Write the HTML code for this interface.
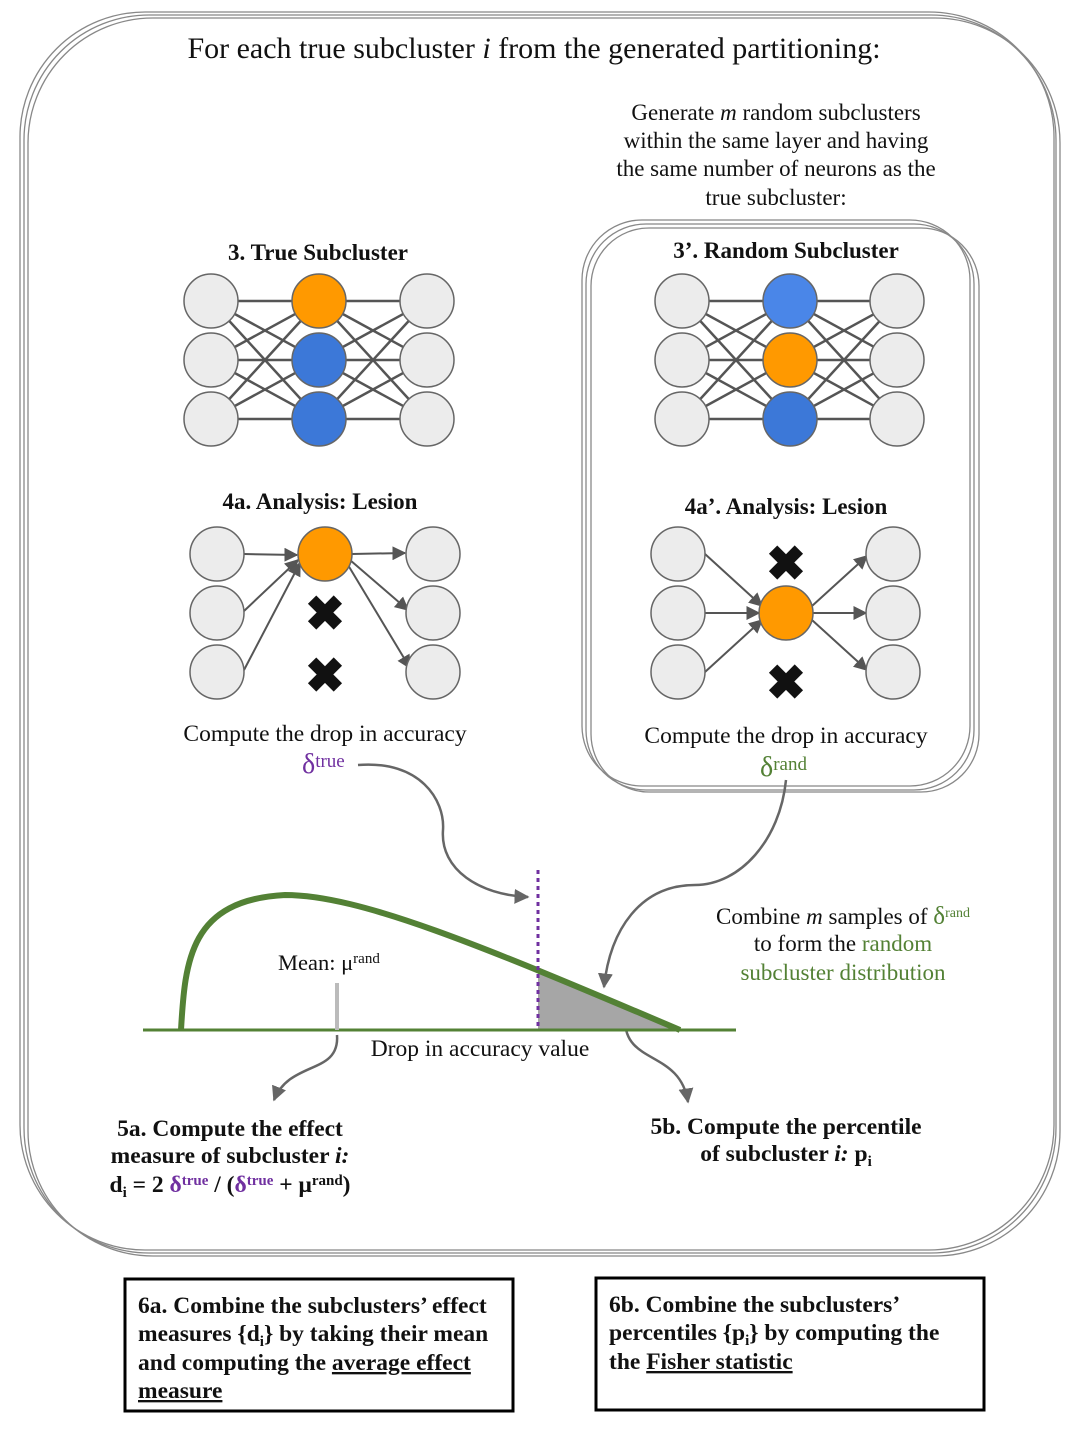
<!DOCTYPE html>
<html><head><meta charset="utf-8"><style>
body{margin:0;background:#fff}
svg{display:block}
text{font-family:"Liberation Serif",serif;fill:#111}
.b{font-weight:bold}
</style></head><body>
<svg width="1080" height="1429" viewBox="0 0 1080 1429" xmlns="http://www.w3.org/2000/svg">
<defs>
<marker id="ah" viewBox="0 0 10 10" refX="9" refY="5" markerWidth="7" markerHeight="7" orient="auto"><path d="M0,0L10,5L0,10z" fill="#555"/></marker>
<marker id="ag" viewBox="0 0 10 10" refX="9" refY="5" markerWidth="6" markerHeight="6" orient="auto"><path d="M0,0L10,5L0,10z" fill="#666"/></marker>
</defs>
<g fill="none" stroke="#888" stroke-width="1.3">
<rect x="20" y="12" width="1034" height="1238" rx="125"/>
<rect x="24" y="15" width="1032" height="1238" rx="125"/>
<rect x="28" y="18" width="1032" height="1238" rx="125"/>
<rect x="582" y="220" width="388" height="566" rx="60"/>
<rect x="586" y="224" width="388" height="566" rx="60"/>
<rect x="591" y="228" width="388" height="564" rx="58"/>
</g>
<text x="534" y="58" font-size="30" text-anchor="middle">For each true subcluster <tspan font-style="italic">i</tspan> from the generated partitioning:</text>
<g font-size="23" text-anchor="middle">
<text x="776" y="120">Generate <tspan font-style="italic">m</tspan> random subclusters</text>
<text x="776" y="148">within the same layer and having</text>
<text x="776" y="176">the same number of neurons as the</text>
<text x="776" y="205">true subcluster:</text>
</g>
<text x="318" y="260" font-size="23" class="b" text-anchor="middle">3. True Subcluster</text>
<text x="786" y="258" font-size="23" class="b" text-anchor="middle">3’. Random Subcluster</text>
<text x="320" y="509" font-size="23" class="b" text-anchor="middle">4a. Analysis: Lesion</text>
<text x="786" y="514" font-size="23" class="b" text-anchor="middle">4a’. Analysis: Lesion</text>

<g stroke="#555" stroke-width="2.5">
<g id="n1l">
<line x1="211" y1="301" x2="319" y2="301"/><line x1="211" y1="301" x2="319" y2="360"/><line x1="211" y1="301" x2="319" y2="419"/>
<line x1="211" y1="360" x2="319" y2="301"/><line x1="211" y1="360" x2="319" y2="360"/><line x1="211" y1="360" x2="319" y2="419"/>
<line x1="211" y1="419" x2="319" y2="301"/><line x1="211" y1="419" x2="319" y2="360"/><line x1="211" y1="419" x2="319" y2="419"/>
</g>
<use href="#n1l" transform="translate(108,0)"/>
<use href="#n1l" transform="translate(471,0)"/>
<use href="#n1l" transform="translate(579,0)"/>
</g>
<g stroke="#666" stroke-width="1.5">
<circle cx="211" cy="301" r="27" fill="#ececec"/><circle cx="211" cy="360" r="27" fill="#ececec"/><circle cx="211" cy="419" r="27" fill="#ececec"/>
<circle cx="319" cy="301" r="27" fill="#ff9900"/><circle cx="319" cy="360" r="27" fill="#3c78d8"/><circle cx="319" cy="419" r="27" fill="#3c78d8"/>
<circle cx="427" cy="301" r="27" fill="#ececec"/><circle cx="427" cy="360" r="27" fill="#ececec"/><circle cx="427" cy="419" r="27" fill="#ececec"/>
<circle cx="682" cy="301" r="27" fill="#ececec"/><circle cx="682" cy="360" r="27" fill="#ececec"/><circle cx="682" cy="419" r="27" fill="#ececec"/>
<circle cx="790" cy="301" r="27" fill="#4a86e8"/><circle cx="790" cy="360" r="27" fill="#ff9900"/><circle cx="790" cy="419" r="27" fill="#3c78d8"/>
<circle cx="897" cy="301" r="27" fill="#ececec"/><circle cx="897" cy="360" r="27" fill="#ececec"/><circle cx="897" cy="419" r="27" fill="#ececec"/>
</g>

<g stroke="#555" stroke-width="2" marker-end="url(#ah)">
<line x1="244" y1="554" x2="297" y2="555"/>
<line x1="244" y1="611" x2="298" y2="560"/>
<line x1="244" y1="670" x2="300" y2="563"/>
<line x1="352" y1="554" x2="405" y2="553"/>
<line x1="350" y1="560" x2="408" y2="610"/>
<line x1="348" y1="565" x2="410" y2="668"/>
<line x1="705" y1="554" x2="762" y2="606"/>
<line x1="705" y1="613" x2="759" y2="613"/>
<line x1="705" y1="672" x2="762" y2="620"/>
<line x1="812" y1="606" x2="867" y2="556"/>
<line x1="813" y1="613" x2="866" y2="613"/>
<line x1="812" y1="620" x2="867" y2="670"/>
</g>
<g stroke="#666" stroke-width="1.5">
<circle cx="217" cy="554" r="27" fill="#ececec"/><circle cx="217" cy="613" r="27" fill="#ececec"/><circle cx="217" cy="672" r="27" fill="#ececec"/>
<circle cx="325" cy="554" r="27" fill="#ff9900"/>
<circle cx="433" cy="554" r="27" fill="#ececec"/><circle cx="433" cy="613" r="27" fill="#ececec"/><circle cx="433" cy="672" r="27" fill="#ececec"/>
<circle cx="678" cy="554" r="27" fill="#ececec"/><circle cx="678" cy="613" r="27" fill="#ececec"/><circle cx="678" cy="672" r="27" fill="#ececec"/>
<circle cx="786" cy="613" r="27" fill="#ff9900"/>
<circle cx="893" cy="554" r="27" fill="#ececec"/><circle cx="893" cy="613" r="27" fill="#ececec"/><circle cx="893" cy="672" r="27" fill="#ececec"/>
</g>
<g font-size="48" font-family="DejaVu Sans,sans-serif" text-anchor="middle" font-weight="bold">
<text x="325" y="630">✖</text><text x="325" y="692">✖</text>
<text x="786" y="580">✖</text><text x="786" y="699">✖</text>
</g>

<text x="325" y="741" font-size="23.5" text-anchor="middle">Compute the drop in accuracy</text>
<text x="786" y="743" font-size="23.5" text-anchor="middle">Compute the drop in accuracy</text>
<text x="302" y="773" font-size="28" style="fill:#7030a0">δ<tspan font-size="19" dy="-6">true</tspan></text>
<text x="760" y="776" font-size="28" style="fill:#538135">δ<tspan font-size="19" dy="-6">rand</tspan></text>

<g fill="none" stroke="#666" stroke-width="2.5">
<path d="M358,765 C420,760 445,800 443,830 C440,870 480,895 528,897" marker-end="url(#ag)"/>
<path d="M786,780 C780,840 740,885 695,885 C640,885 610,930 604,987" marker-end="url(#ag)"/>
<path d="M337,1035 C340,1075 290,1060 274,1100" marker-end="url(#ag)"/>
<path d="M625,1020 C625,1065 680,1050 688,1102" marker-end="url(#ag)"/>
</g>

<path d="M538,968 L680,1030 L538,1030 Z" fill="#a6a6a6"/>
<line x1="143" y1="1030" x2="736" y2="1030" stroke="#538135" stroke-width="3"/>
<path d="M181,1030 C185,960 190,900 285,895 C360,895 480,945 680,1030" fill="none" stroke="#538135" stroke-width="6"/>
<line x1="538" y1="870" x2="538" y2="1030" stroke="#7030a0" stroke-width="3" stroke-dasharray="4,4"/>
<line x1="337" y1="983" x2="337" y2="1030" stroke="#bbb" stroke-width="4"/>
<text x="278" y="970" font-size="22.5">Mean: μ<tspan font-size="15" dy="-7">rand</tspan></text>
<text x="480" y="1056" font-size="23.5" text-anchor="middle">Drop in accuracy value</text>
<g font-size="23" text-anchor="middle">
<text x="843" y="924">Combine <tspan font-style="italic">m</tspan> samples of <tspan style="fill:#538135" font-size="25">δ</tspan><tspan style="fill:#538135" font-size="14" dy="-7">rand</tspan></text>
<text x="843" y="951">to form the <tspan style="fill:#538135">random</tspan></text>
<text x="843" y="980" style="fill:#538135">subcluster distribution</text>
</g>

<g font-size="23.5" class="b" text-anchor="middle">
<text x="230" y="1136">5a. Compute the effect</text>
<text x="230" y="1163">measure of subcluster <tspan font-style="italic">i:</tspan></text>
<text x="230" y="1192">d<tspan font-size="15" dy="5">i</tspan><tspan dy="-5"> = 2 </tspan><tspan style="fill:#7030a0">δ</tspan><tspan style="fill:#7030a0" font-size="15" dy="-7">true</tspan><tspan dy="7"> / (</tspan><tspan style="fill:#7030a0">δ</tspan><tspan style="fill:#7030a0" font-size="15" dy="-7">true</tspan><tspan dy="7"> + μ</tspan><tspan font-size="15" dy="-7">rand</tspan><tspan dy="7">)</tspan></text>
<text x="786" y="1134">5b. Compute the percentile</text>
<text x="786" y="1161">of subcluster <tspan font-style="italic">i:</tspan> p<tspan font-size="15" dy="5">i</tspan></text>
</g>

<rect x="125" y="1279" width="388" height="132" fill="none" stroke="#000" stroke-width="3"/>
<rect x="596" y="1278" width="388" height="132" fill="none" stroke="#000" stroke-width="3"/>
<g font-size="23.5" class="b">
<text x="138" y="1313">6a. Combine the subclusters’ effect</text>
<text x="138" y="1341">measures {d<tspan font-size="15" dy="5">i</tspan><tspan dy="-5">} by taking their mean</tspan></text>
<text x="138" y="1370">and computing the <tspan text-decoration="underline">average effect</tspan></text>
<text x="138" y="1398" text-decoration="underline">measure</text>
<text x="609" y="1312">6b. Combine the subclusters’</text>
<text x="609" y="1340">percentiles {p<tspan font-size="15" dy="5">i</tspan><tspan dy="-5">} by computing the</tspan></text>
<text x="609" y="1369">the <tspan text-decoration="underline">Fisher statistic</tspan></text>
</g>
</svg>
</body></html>
